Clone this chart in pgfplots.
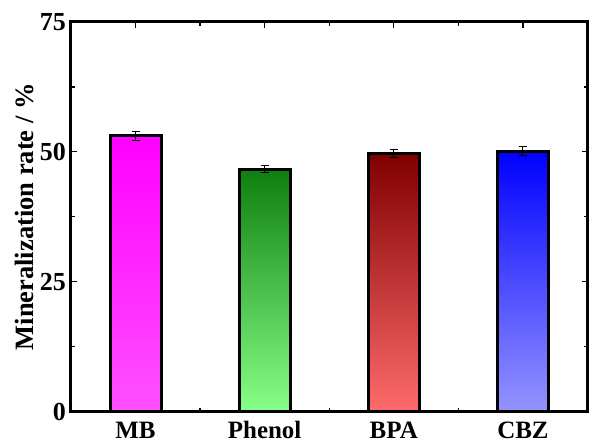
\documentclass[border=0pt]{standalone}
\usepackage{pgfplots}
\pgfplotsset{compat=1.18}
\usepackage{fontspec}
\setmainfont{Liberation Serif}
\definecolor{mbT}{HTML}{FF00FF}
\definecolor{mbB}{HTML}{FF50FF}
\definecolor{phT}{HTML}{0F7F0F}
\definecolor{phB}{HTML}{88FF88}
\definecolor{bpT}{HTML}{800000}
\definecolor{bpB}{HTML}{FF6B6B}
\definecolor{cbT}{HTML}{0000FF}
\definecolor{cbB}{HTML}{9494FF}
\begin{document}
\bfseries
\begin{tikzpicture}
\begin{axis}[
  scale only axis, width=517pt, height=390pt,
  xmin=0.5, xmax=4.5, ymin=0, ymax=75,
  xtick={1,2,3,4}, xticklabels={MB,Phenol,BPA,CBZ},
  minor x tick num=1,
  ytick={0,25,50,75}, minor y tick num=1,
  tick align=inside,
  axis line style={line width=3pt},
  major tick length=6pt, minor tick length=4pt,
  every tick/.style={black, line width=1.2pt},
  /pgf/number format/assume math mode=true,
  xticklabel style={font=\fontsize{25}{30}\selectfont\bfseries, anchor=base, yshift=-27pt},
  yticklabel style={font=\fontsize{26}{30}\selectfont\bfseries, inner sep=0pt, xshift=-5pt},
  ylabel={Mineralization rate / \%},
  ylabel style={font=\fontsize{26.5}{30}\selectfont\bfseries, at={(axis description cs:-0.089,0.5)}, anchor=center},
]
\addplot[ybar, bar width=0.395, bar shift=0pt, draw=black, line width=3pt, top color=mbT, bottom color=mbB] coordinates {(1,53.1)};
\addplot[ybar, bar width=0.395, bar shift=0pt, draw=black, line width=3pt, top color=phT, bottom color=phB] coordinates {(2,46.7)};
\addplot[ybar, bar width=0.395, bar shift=0pt, draw=black, line width=3pt, top color=bpT, bottom color=bpB] coordinates {(3,49.7)};
\addplot[ybar, bar width=0.395, bar shift=0pt, draw=black, line width=3pt, top color=cbT, bottom color=cbB] coordinates {(4,50.1)};
\addplot[draw=none, mark=none, error bars/.cd, y dir=both, y explicit,
  error bar style={draw=black, line width=1pt},
  error mark options={draw=black, rotate=90, mark size=4pt, line width=1pt}]
  coordinates {(1,53.1) +- (0,0.9) (2,46.7) +- (0,0.7) (3,49.7) +- (0,0.8) (4,50.1) +- (0,0.85)};
\end{axis}
\path (current axis.south west) ++(-71pt,-32pt) (current axis.north east) ++(1pt,22pt);
\end{tikzpicture}
\end{document}
